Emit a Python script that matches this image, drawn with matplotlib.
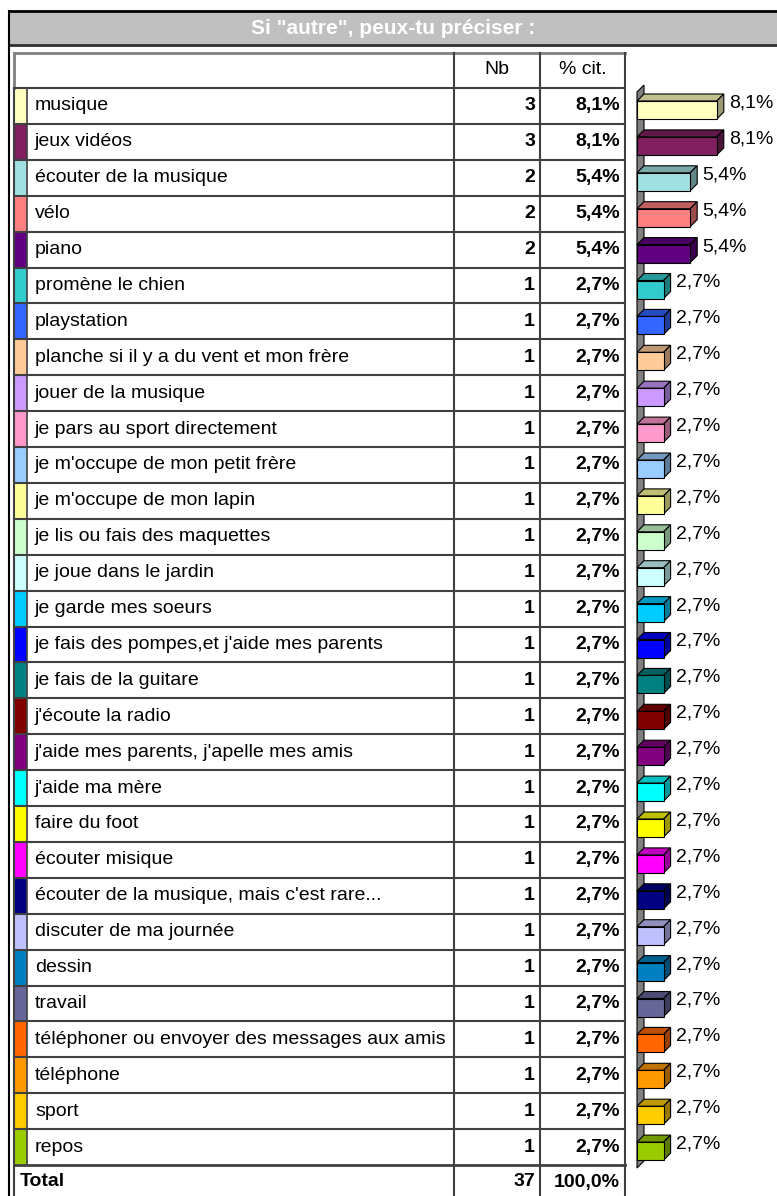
import matplotlib.pyplot as plt
from matplotlib.patches import Polygon, Rectangle
import matplotlib.colors as mcolors

plt.rcParams['font.family'] = ['Liberation Sans', 'DejaVu Sans']

# données du tableau
title = 'Si "autre", peux-tu préciser :'
labels = ["musique", "jeux vidéos", "écouter de la musique", "vélo", "piano",
          "promène le chien", "playstation", "planche si il y a du vent et mon frère",
          "jouer de la musique", "je pars au sport directement",
          "je m'occupe de mon petit frère", "je m'occupe de mon lapin",
          "je lis ou fais des maquettes", "je joue dans le jardin",
          "je garde mes soeurs", "je fais des pompes,et j'aide mes parents",
          "je fais de la guitare", "j'écoute la radio",
          "j'aide mes parents, j'apelle mes amis", "j'aide ma mère", "faire du foot",
          "écouter misique", "écouter de la musique, mais c'est rare...",
          "discuter de ma journée", "dessin", "travail",
          "téléphoner ou envoyer des messages aux amis", "téléphone", "sport", "repos"]
nb = [3, 3, 2, 2, 2, 1, 1, 1, 1, 1, 1, 1, 1, 1, 1,
      1, 1, 1, 1, 1, 1, 1, 1, 1, 1, 1, 1, 1, 1, 1]
pct = [8.1, 8.1, 5.4, 5.4, 5.4, 2.7, 2.7, 2.7, 2.7, 2.7, 2.7, 2.7, 2.7, 2.7, 2.7,
       2.7, 2.7, 2.7, 2.7, 2.7, 2.7, 2.7, 2.7, 2.7, 2.7, 2.7, 2.7, 2.7, 2.7, 2.7]
colors = ["#FFFFC0", "#802060", "#A0E0E0", "#FF8080", "#600080",
          "#33CCCC", "#3366FF", "#FFCC99", "#CC99FF", "#FF99CC",
          "#99CCFF", "#FFFF99", "#CCFFCC", "#CCFFFF", "#00CCFF",
          "#0000FF", "#008080", "#800000", "#800080", "#00FFFF",
          "#FFFF00", "#FF00FF", "#000080", "#C0C0FF", "#0080C0",
          "#666699", "#FF6600", "#FF9900", "#FFCC00", "#99CC00"]
total_nb = 37
total_pct = 100.0


def fmt(p):
    return ("%.1f%%" % p).replace('.', ',')


W, H = 777, 1196
fig = plt.figure(figsize=(W / 100, H / 100), dpi=100)
ax = fig.add_axes([0, 0, 1, 1])        # axe en pixels pour le tableau
ax.set_xlim(0, W)
ax.set_ylim(H, 0)
ax.axis('off')

fs = 14
dark = '#404040'
top0 = 88          # haut de la première ligne
rh = 35.9          # hauteur d'une ligne
n = len(labels)
x_left, x_sw, x_nb, x_pc, x_right = 14, 27, 454, 540, 625

# cadre + bandeau titre
ax.add_patch(Rectangle((9, 11), W, 34, facecolor='#C0C0C0', edgecolor='none'))
ax.plot([9, W], [11, 11], color='black', lw=2)
ax.plot([9, W], [45, 45], color='#303030', lw=2)
ax.plot([9, 9], [11, H], color='black', lw=1.5)
ax.text((9 + W) / 2, 28.5, title, color='white', fontsize=15, fontweight='bold',
        ha='center', va='center')

# en-tête du tableau
ax.plot([x_left, x_right], [52.5, 52.5], color='#808080', lw=2)
ax.plot([x_left, x_left], [52.5, top0], color='#808080', lw=2)
ax.text((x_nb + x_pc) / 2, 70, 'Nb', fontsize=fs, ha='center', va='center')
ax.text((x_pc + x_right) / 2, 70, '% cit.', fontsize=fs, ha='center', va='center')

# lignes de données
for i in range(n):
    y0 = top0 + i * rh
    yc = y0 + rh / 2
    ax.add_patch(Rectangle((x_left, y0), x_sw - x_left, rh, facecolor=colors[i],
                           edgecolor='none'))
    ax.plot([x_sw, x_sw], [y0, y0 + rh], color=dark, lw=1.2)
    ax.text(35, yc, labels[i], fontsize=fs, ha='left', va='center')
    ax.text(x_pc - 5, yc, str(nb[i]), fontsize=fs, fontweight='bold', ha='right', va='center')
    ax.text(x_right - 5, yc, fmt(pct[i]), fontsize=fs, fontweight='bold', ha='right', va='center')
    ax.plot([x_left, x_right], [y0, y0], color=dark, lw=1.5)

# ligne Total
yt = top0 + n * rh
ax.plot([x_left, x_right], [yt, yt], color=dark, lw=2)
ax.text(20, yt + 17, 'Total', fontsize=fs, fontweight='bold', ha='left', va='center')
ax.text(x_pc - 5, yt + 17, str(total_nb), fontsize=fs, fontweight='bold', ha='right', va='center')
ax.text(x_right - 5, yt + 17, fmt(total_pct), fontsize=fs, fontweight='bold', ha='right', va='center')

# verticales
for x in [x_left, x_nb, x_pc, x_right]:
    ax.plot([x, x], [top0 if x == x_left else 52.5, H], color=dark, lw=1.5)

# graphique en barres 3D
px_per = 9.85                     # pixels par %
bx0, bw = 637, W - 637
ax2 = fig.add_axes([bx0 / W, 1 - yt / H, bw / W, (yt - top0) / H])
ax2.set_xlim(0, bw / px_per)
ax2.set_ylim(n, 0)
ax2.axis('off')

ddx = 7 / px_per
ddy = 7 / rh
# mur gris
wall = Polygon([(0, 4 / rh), (ddx, 4 / rh - ddy), (ddx, n + 3 / rh - ddy), (0, n + 3 / rh)],
               closed=True, facecolor='#808080', edgecolor='black', lw=0.8, clip_on=False)
ax2.add_patch(wall)

for i in range(n):
    c = mcolors.to_rgb(colors[i])
    ctop = tuple(v * 0.75 for v in c)
    cside = tuple(v * 0.6 for v in c)
    v = pct[i]
    ya = i + 13 / rh
    yb = i + 31 / rh
    ax2.add_patch(Polygon([(0, ya), (ddx, ya - ddy), (v + ddx, ya - ddy), (v, ya)],
                          closed=True, facecolor=ctop, edgecolor='black', lw=0.8, clip_on=False))
    ax2.add_patch(Polygon([(v, ya), (v + ddx, ya - ddy), (v + ddx, yb - ddy), (v, yb)],
                          closed=True, facecolor=cside, edgecolor='black', lw=0.8, clip_on=False))
    ax2.add_patch(Rectangle((0, ya), v, yb - ya, facecolor=c, edgecolor='black', lw=0.8,
                            clip_on=False))
    ax2.text(v + ddx + 5 / px_per, i + 0.5 - 3 / rh, fmt(v), fontsize=fs,
             ha='left', va='center', clip_on=False)

fig.savefig('out.png', dpi=100)
